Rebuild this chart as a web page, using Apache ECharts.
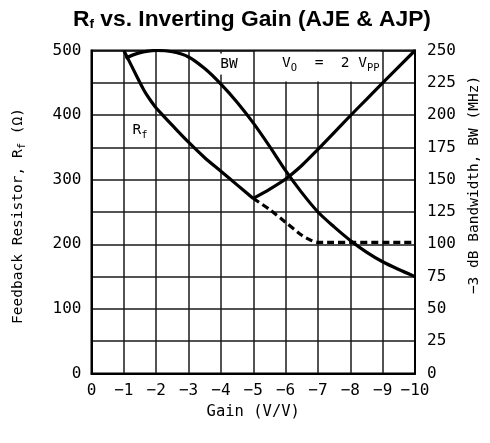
<!DOCTYPE html>
<html>
<head>
<meta charset="utf-8">
<script src="https://cdn.jsdelivr.net/npm/echarts@6/dist/echarts.min.js"></script>
<style>html,body{margin:0;padding:0;background:#fff}#c{width:490px;height:443px}</style>
</head>
<body>
<div id="c"></div>
<script>
// ---- data ----
const gainTicks = [0, -1, -2, -3, -4, -5, -6, -7, -8, -9, -10];
const rfTicks = [0, 100, 200, 300, 400, 500];
const bwTicks = [0, 25, 50, 75, 100, 125, 150, 175, 200, 225, 250];

const rfDownGain = [-1, -1.25, -1.5, -1.6, -1.7, -1.8, -1.9, -2, -2.2, -2.5, -3, -3.5, -4, -4.5, -5];
const rfDownOhm  = [500, 475, 450, 440.5, 432, 424.5, 417.5, 411, 400, 384, 358, 334, 313, 292, 271];

const rfUpGain = [-5, -5.5, -6, -6.5, -7, -7.5, -8, -8.5, -9, -10];
const rfUpOhm  = [271, 285, 301, 322, 347, 373, 399, 424.5, 450, 500];

const rfDashGain = [-5, -5.5, -6, -6.5, -6.75, -7, -10];
const rfDashOhm  = [271, 254, 234, 214, 207, 203, 203];

const bwGain = [-1.05, -1.45, -2, -2.5, -3, -3.5, -4, -4.5, -5, -5.5, -6, -6.5, -7, -7.5, -8, -8.5, -9, -9.5, -10];
const bwMHz  = [244, 248, 250, 249, 245, 236, 224, 210, 194, 176, 157, 140, 125, 113.5, 103, 94, 86.5, 80.5, 75];

const labelRf = {text: '{n|R}{s|f}', gain: -1.5, ohm: 376};
const labelBW = {text: 'BW', gain: -4.25, ohm: 479};
const labelVo = {text: '{n|V}{s|O}{n|  =  2 V}{s|PP}', gain: -7.4, ohm: 480};
const boxVo = [[-5.06, 452], [-8.94, 498]];

const zip = (a, b) => a.map((v, i) => [v, b[i]]);
const MONO = 'DejaVu Sans Mono';
const rich = {
  n: {fontFamily: MONO, fontSize: 14.5, color: '#000'},
  s: {fontFamily: MONO, fontSize: 10.5, color: '#000', padding: [9, 0, 0, 0]}
};

const chart = echarts.init(document.getElementById('c'), null, {renderer: 'canvas'});
chart.setOption({
  animation: false,
  backgroundColor: '#fff',
  textStyle: {fontFamily: MONO, color: '#000'},
  title: {
    text: '{a|R}{b|f}{a| vs. Inverting Gain (AJE & AJP)}',
    left: 73,
    top: 8,
    padding: 0,
    textStyle: {
      rich: {
        a: {fontFamily: 'Liberation Sans', fontWeight: 'bold', fontSize: 22.8, color: '#000'},
        b: {fontFamily: 'Liberation Sans', fontWeight: 'bold', fontSize: 13.5, color: '#000', padding: [9, 0, 0, 0]}
      }
    }
  },
  grid: {left: 91.5, right: 75, top: 50.5, bottom: 69.5, show: true, borderColor: '#000', borderWidth: 2, containLabel: false},
  xAxis: {
    type: 'value', inverse: true, min: -10, max: 0, interval: 1,
    name: 'Gain (V/V)', nameLocation: 'middle', nameGap: 30,
    nameTextStyle: {fontFamily: MONO, fontSize: 15.5, color: '#000'},
    axisLine: {show: true, lineStyle: {color: '#000', width: 2}},
    axisTick: {show: false},
    axisLabel: {margin: 9, fontSize: 16, fontFamily: MONO, color: '#000',
      formatter: v => gainTicks.includes(v) ? (v === 0 ? '0' : '\u2212' + Math.abs(v)) : ''},
    splitLine: {show: true, lineStyle: {color: '#1a1a1a', width: 1.5}}
  },
  yAxis: [
    {
      type: 'value', min: 0, max: 500, interval: 100, position: 'left',
      name: 'Feedback Resistor, {n|R}{s|f} (Ω)', nameLocation: 'middle', nameGap: 64, nameRotate: 90,
      nameTextStyle: {fontFamily: MONO, fontSize: 14.5, color: '#000', padding: [0, 8, 0, 0],
        rich: {n: {fontFamily: MONO, fontSize: 14.5}, s: {fontFamily: MONO, fontSize: 10.5, padding: [7, 0, 0, 0]}}},
      axisLine: {show: true, lineStyle: {color: '#000', width: 2}},
      axisTick: {show: false},
      axisLabel: {margin: 10, fontSize: 16, fontFamily: MONO, color: '#000',
        formatter: v => rfTicks.includes(v) ? String(v) : ''},
      splitLine: {show: false}
    },
    {
      type: 'value', min: 0, max: 250, interval: 25, position: 'right',
      name: '\u22123 dB Bandwidth, BW (MHz)', nameLocation: 'middle', nameGap: 50, nameRotate: 90,
      nameTextStyle: {fontFamily: MONO, fontSize: 14.5, color: '#000', padding: [0, 0, 0, 54]},
      axisLine: {show: true, lineStyle: {color: '#000', width: 2}},
      axisTick: {show: false},
      axisLabel: {margin: 12, fontSize: 16, fontFamily: MONO, color: '#000',
        formatter: v => bwTicks.includes(v) ? String(v) : ''},
      splitLine: {show: true, lineStyle: {color: '#1a1a1a', width: 1.5}}
    }
  ],
  series: [
    {
      type: 'line', data: [], yAxisIndex: 0, z: 1, silent: true,
      markArea: {silent: true, itemStyle: {color: '#fff'},
        data: [[{coord: boxVo[0]}, {coord: boxVo[1]}]]},
      markPoint: {
        silent: true, symbol: 'circle', symbolSize: 1, itemStyle: {color: 'rgba(0,0,0,0)'},
        data: [
          {coord: [labelRf.gain, labelRf.ohm], label: {show: true, position: 'inside', formatter: labelRf.text, rich: rich}},
          {coord: [labelBW.gain, labelBW.ohm], label: {show: true, position: 'inside', formatter: labelBW.text, fontFamily: MONO, fontSize: 14.5, color: '#000', backgroundColor: '#fff', padding: [3, 2]}},
          {coord: [labelVo.gain, labelVo.ohm], label: {show: true, position: 'inside', formatter: labelVo.text, rich: rich}}
        ]
      }
    },
    {name: 'Rf', type: 'line', yAxisIndex: 0, data: zip(rfDownGain, rfDownOhm), smooth: 0.3, showSymbol: false, z: 3,
      lineStyle: {color: '#000', width: 3.2}},
    {name: 'Rf2', type: 'line', yAxisIndex: 0, data: zip(rfUpGain, rfUpOhm), smooth: 0.3, showSymbol: false, z: 3,
      lineStyle: {color: '#000', width: 3.2}},
    {name: 'RfDash', type: 'line', yAxisIndex: 0, data: zip(rfDashGain, rfDashOhm), smooth: 0.3, showSymbol: false, z: 3,
      lineStyle: {color: '#000', width: 3.2, type: [7, 4]}},
    {name: 'BW', type: 'line', yAxisIndex: 1, data: zip(bwGain, bwMHz), smooth: 0.3, showSymbol: false, z: 3,
      lineStyle: {color: '#000', width: 3.2}}
  ]
});
</script>
</body>
</html>
